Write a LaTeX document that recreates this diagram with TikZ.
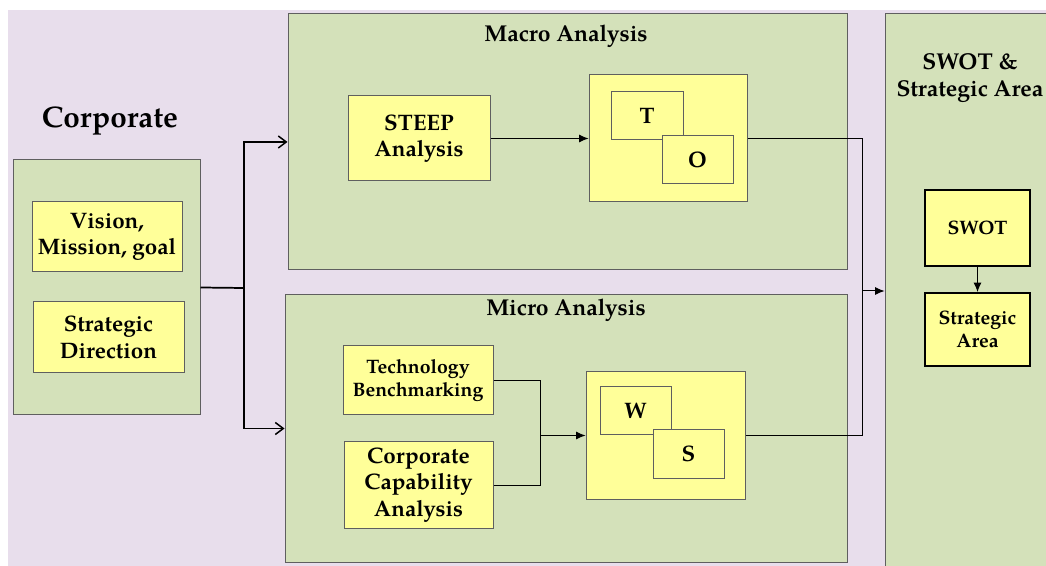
\documentclass[tikz,border=0pt]{standalone}
\usepackage{fontspec}
\setmainfont{texgyrepagella}[Extension=.otf, UprightFont=*-regular, BoldFont=*-bold, ItalicFont=*-italic, BoldItalicFont=*-bolditalic]
\usetikzlibrary{arrows.meta}
\definecolor{bglilac}{RGB}{232,222,236}
\definecolor{panelgreen}{RGB}{212,225,186}
\definecolor{boxyellow}{RGB}{255,255,153}
\definecolor{edgegray}{RGB}{95,95,95}

\begin{document}
\begin{tikzpicture}[x=0.75pt, y=-0.75pt, >={Straight Barb[length=6pt,width=9pt]}]
	\tikzstyle{panel} = [draw=edgegray, fill=panelgreen, line width=0.75pt, inner sep=0pt]
	\tikzstyle{card} = [draw=edgegray, fill=boxyellow, line width=0.75pt, inner sep=0pt, align=center, font=\fontsize{16.8}{19.8}\selectfont\bfseries]
	\tikzstyle{heading} = [inner sep=0pt, align=center, font=\fontsize{17.2}{20}\selectfont\bfseries]
	\tikzstyle{small} = [font=\fontsize{14.6}{17.2}\selectfont\bfseries]
	\tikzstyle{wire} = [line width=0.75pt]
	\tikzstyle{tip} = [-{Latex[length=7pt,width=6pt]}]
	\useasboundingbox (0,0) rectangle (1046,566);
	\fill[bglilac] (8,10) rectangle (1046,566);
	% panels
	\node[panel, minimum width=140.25pt, minimum height=191.25pt] (corp) at (106.5,287.5) {};
	\node[panel, minimum width=419.25pt, minimum height=192pt] (macro) at (567.5,142) {};
	\node[panel, minimum width=421.5pt, minimum height=200.25pt] (micro) at (566,428.5) {};
	\node[panel, minimum width=123pt, minimum height=417pt] (swotpanel) at (967,292) {};
	% headings
	\node[heading, font=\fontsize{22.3}{26}\selectfont\bfseries] (corptitle) at (110,121.5) {Corporate};
	\node[heading] (macrotitle) at (566,36) {Macro Analysis};
	\node[heading] (microtitle) at (566,310) {Micro Analysis};
	\node[heading] (swottitle) at (970,78) {SWOT \&\\Strategic Area};
	% corporate boxes
	\node[card, minimum width=112.5pt, minimum height=52.5pt] (vision) at (107,237) {Vision,\\Mission, goal};
	\node[card, minimum width=113.25pt, minimum height=53.25pt] (direction) at (108.5,337.5) {Strategic\\Direction};
	% macro boxes
	\node[card, minimum width=106.5pt, minimum height=63.75pt] (steep) at (419,138.5) {STEEP\\Analysis};
	\node[card, minimum width=118.5pt, minimum height=95.25pt] (to) at (668,138.5) {};
	\node[card, minimum width=54pt, minimum height=36pt] (t) at (647,116) {T};
	\node[card, minimum width=53.25pt, minimum height=36pt] (o) at (697.5,160) {O};
	% micro boxes
	\node[card, small, minimum width=112.5pt, minimum height=51.75pt] (tech) at (418,380.5) {Technology\\Benchmarking};
	\node[card, minimum width=111.75pt, minimum height=64.5pt] (capability) at (418.5,485) {Corporate\\Capability\\Analysis};
	\node[card, minimum width=119.25pt, minimum height=95.25pt] (ws) at (665.5,435.5) {};
	\node[card, minimum width=53.25pt, minimum height=36pt] (w) at (635.5,411) {W};
	\node[card, minimum width=53.25pt, minimum height=36pt] (s) at (688.5,454) {S};
	% swot boxes
	\node[card, small, line width=1.5pt, draw=black, minimum width=78.75pt, minimum height=57pt] (swot) at (977.5,228) {SWOT};
	\node[card, small, line width=1.5pt, draw=black, minimum width=78.75pt, minimum height=54.75pt] (area) at (977.5,329.5) {Strategic\\Area};
	% connectors
	\coordinate (split) at (244,288);
	\coordinate (merge) at (540,435.5);
	\coordinate (join) at (862,291);
	\draw[wire, line width=1.3pt] (corp.east) -- (split);
	\draw[wire, ->, line width=1.1pt] (split) |- (macro.west);
	\draw[wire, ->, line width=1.1pt] (split) |- (micro.west);
	\draw[wire, tip] (steep) -- (to);
	\draw[wire] (tech.east) -| (merge);
	\draw[wire] (capability.east) -| (merge);
	\draw[wire, tip] (merge) -- (ws.west);
	\draw[wire] (to.east) -| (join);
	\draw[wire] (ws.east) -| (join);
	\draw[wire, tip] (join) -- (join -| swotpanel.west);
	\draw[wire, tip] (swot) -- (area);
\end{tikzpicture}
\end{document}
